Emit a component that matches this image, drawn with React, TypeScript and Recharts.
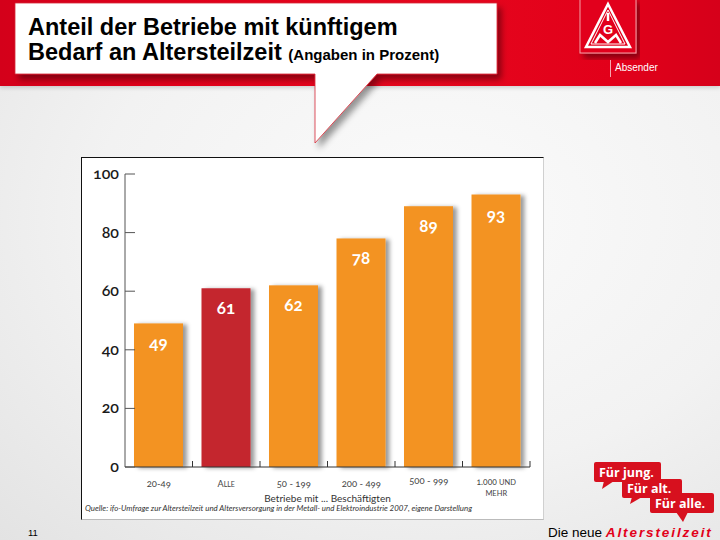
import React from 'react';
import { BarChart, Bar, XAxis, YAxis, Cell, LabelList } from 'recharts';

// Betriebe mit künftigem Bedarf an Altersteilzeit, in Prozent
const categories = ['20-49', 'Alle', '50 - 199', '200 - 499', '500 - 999', '1.000 und mehr'];
const shares = [49, 61, 62, 78, 89, 93];
const highlighted = [false, true, false, false, false, false];
const yTicks = [0, 20, 40, 60, 80, 100];

const ORANGE = '#f39324';
const RED = '#c4262e';
const IGM_RED = '#e2001a';

const CHART_W = 461;
const CHART_H = 361;
const MARGIN = { top: 16, right: 13, left: 0, bottom: 0 };
const Y_AXIS_W = 43;
const X_AXIS_H = 52;
const BAND = (CHART_W - MARGIN.left - MARGIN.right - Y_AXIS_W) / categories.length;

const data = categories.map((name, i) => ({ name, value: shares[i], hl: highlighted[i] }));

const numFont = 'Lato, "Open Sans", sans-serif';

const YTick = (props: any) => {
  const { x, y, payload } = props;
  return (
    <g>
      <line x1={x + 6} x2={x + 16} y1={y} y2={y} stroke="#555" strokeWidth={1} />
      <text
        x={x}
        y={y}
        dy={5}
        textAnchor="end"
        fontSize={16}
        fontWeight={600}
        fill="#1a1a1a"
        fontFamily={numFont}
        style={{ fontVariantNumeric: 'oldstyle-nums' }}
      >
        {payload.value}
      </text>
    </g>
  );
};

const XTick = (props: any) => {
  const { x, y, payload } = props;
  const common = {
    textAnchor: 'middle' as const,
    fill: '#444',
    fontFamily: numFont,
    style: { fontVariantNumeric: 'oldstyle-nums' as const },
  };
  let label: React.ReactNode;
  if (payload.value === 'Alle') {
    label = (
      <text x={x} y={y + 20} {...common} fontSize={9}>
        A<tspan fontSize={7}>LLE</tspan>
      </text>
    );
  } else if (payload.value === '1.000 und mehr') {
    label = (
      <g>
        <text x={x} y={y + 18} {...common} fontSize={8.5}>
          1.000 <tspan fontSize={7.5}>UND</tspan>
        </text>
        <text x={x} y={y + 29} {...common} fontSize={7.5}>MEHR</text>
      </g>
    );
  } else {
    label = (
      <text x={x} y={payload.value === '500 - 999' ? y + 17 : y + 20} {...common} fontSize={9.5}>
        {payload.value}
      </text>
    );
  }
  return (
    <g>
      <line x1={x + BAND / 2} x2={x + BAND / 2} y1={y} y2={y - 6} stroke="#333" strokeWidth={1} />
      {label}
    </g>
  );
};

const BarValue = (p: any) => {
  const vb = p.viewBox ?? p;
  return (
    <text
      x={vb.x + vb.width / 2}
      y={vb.y + 26}
      textAnchor="middle"
      fill="#fff"
      fontSize={17}
      fontWeight={700}
      fontFamily={numFont}
      style={{ fontVariantNumeric: 'oldstyle-nums' }}
    >
      {p.value}
    </text>
  );
};

const ShadowBar = (props: any) => {
  const { x, y, width, height, fill } = props;
  return <rect x={x} y={y} width={width} height={height} fill={fill} filter="url(#barShadow)" />;
};

const IgmLogo = () => (
  <svg width={62} height={60} style={{ position: 'absolute', left: 578, top: 0 }}>
    <rect x={2} y={-2} width={56} height={55} fill={IGM_RED} stroke="#f3a0a8" strokeWidth={1} filter="url(#softShadow)" />
    <polygon points="30,4 52,47 8,47" fill="none" stroke="#fff" strokeWidth={2.5} />
    <polygon points="30,10 47,44 13,44" fill="none" stroke="#fff" strokeWidth={1} />
    <line x1={30} y1={13} x2={30} y2={21} stroke="#fff" strokeWidth={2.5} />
    <text x={30} y={34} textAnchor="middle" fill="#fff" fontSize={13} fontWeight={700} fontFamily="Liberation Sans, Arial">G</text>
    <polyline points="17,43 22,35 30,42 38,35 43,43" fill="none" stroke="#fff" strokeWidth={2.5} />
  </svg>
);

const Slogan = () => {
  const txt = { fill: '#fff', fontSize: 12.5, fontWeight: 700, fontFamily: '"Open Sans", Lato, sans-serif' };
  return (
    <svg width={130} height={70} style={{ position: 'absolute', left: 590, top: 458 }}>
      <g fill="#d7101e">
        <rect x={4} y={4} width={67} height={20} rx={2} />
        <polygon points="14,23 24,23 12,31" />
        <rect x={32} y={21} width={60} height={19} rx={2} />
        <polygon points="42,39 52,39 40,46" />
        <rect x={60} y={35} width={64} height={20} rx={2} />
        <polygon points="86,54 98,54 93,64" />
      </g>
      <text x={9} y={19} {...txt}>Für jung.</text>
      <text x={37} y={35} {...txt}>Für alt.</text>
      <text x={65} y={50} {...txt}>Für alle.</text>
    </svg>
  );
};

export default function App() {
  return (
    <div
      style={{
        position: 'absolute',
        left: 0,
        top: 0,
        width: 720,
        height: 540,
        overflow: 'hidden',
        background: 'radial-gradient(ellipse at 60% 40%, #fbfbfb 0%, #f2f2f2 55%, #e3e3e3 100%)',
        fontFamily: '"Liberation Sans", Arial, sans-serif',
      }}
    >
      <svg width={0} height={0} style={{ position: 'absolute' }}>
        <defs>
          <filter id="barShadow" x="-20%" y="-10%" width="150%" height="130%">
            <feDropShadow dx={4} dy={1} stdDeviation={2.2} floodColor="#000" floodOpacity={0.4} />
          </filter>
          <filter id="softShadow" x="-20%" y="-20%" width="150%" height="150%">
            <feDropShadow dx={4} dy={5} stdDeviation={3} floodColor="#000" floodOpacity={0.4} />
          </filter>
        </defs>
      </svg>

      {/* red header band */}
      <div
        style={{
          position: 'absolute',
          left: 0,
          top: 0,
          width: 720,
          height: 86,
          background: `linear-gradient(to right, #d4001a 0%, ${IGM_RED} 25%, #e6061d 60%, ${IGM_RED} 85%, #d6001a 100%)`,
          boxShadow: '0 2px 4px rgba(0,0,0,0.15)',
        }}
      />

      {/* speech bubble */}
      <svg width={720} height={160} style={{ position: 'absolute', left: 0, top: 0 }}>
        <path
          d="M15,3 H497 V74 H377 L315,143 V74 H15 Z"
          fill="#fff"
          stroke="#d42a36"
          strokeWidth={0.8}
          filter="url(#softShadow)"
        />
      </svg>
      <div
        style={{
          position: 'absolute',
          left: 28,
          top: 15,
          color: '#000',
          fontSize: 23.5,
          fontWeight: 700,
          lineHeight: '25px',
          whiteSpace: 'nowrap',
        }}
      >
        <div>Anteil der Betriebe mit künftigem</div>
        <div>
          Bedarf an Altersteilzeit <span style={{ fontSize: 15 }}>(Angaben in Prozent)</span>
        </div>
      </div>

      <IgmLogo />
      <div style={{ position: 'absolute', left: 610, top: 60, width: 1, height: 17, background: '#f6a5ad' }} />
      <div style={{ position: 'absolute', left: 615, top: 62, color: '#fff', fontSize: 10 }}>Absender</div>

      {/* chart box */}
      <div
        style={{
          position: 'absolute',
          left: 81,
          top: 157,
          width: CHART_W,
          height: CHART_H,
          background: '#fff',
          borderTop: '1px solid #111',
          borderLeft: '1px solid #111',
          borderRight: '1px solid #d0d0d0',
          borderBottom: '1px solid #bbb',
        }}
      >
        <BarChart width={CHART_W} height={CHART_H} data={data} margin={MARGIN}>
          <YAxis
            width={Y_AXIS_W}
            domain={[0, 100]}
            ticks={yTicks}
            interval={0}
            tickSize={0}
            tickMargin={6}
            tickLine={false}
            axisLine={{ stroke: '#555', strokeWidth: 1 }}
            tick={<YTick />}
          />
          <XAxis
            dataKey="name"
            height={X_AXIS_H}
            interval={0}
            tickSize={0}
            tickMargin={0}
            tickLine={false}
            axisLine={{ stroke: '#333', strokeWidth: 1 }}
            tick={<XTick />}
            label={{
              value: 'Betriebe mit ... Beschäftigten',
              position: 'insideBottom',
              offset: 17,
              fill: '#333',
              fontSize: 10,
              fontFamily: numFont,
            }}
          />
          <Bar dataKey="value" barSize={49} isAnimationActive={false} shape={<ShadowBar />}>
            {data.map((d) => (
              <Cell key={d.name} fill={d.hl ? RED : ORANGE} />
            ))}
            <LabelList dataKey="value" content={<BarValue />} />
          </Bar>
        </BarChart>
        <div
          style={{
            position: 'absolute',
            left: 3,
            top: 345,
            fontSize: 7.9,
            fontStyle: 'italic',
            color: '#333',
            whiteSpace: 'nowrap',
            fontFamily: numFont,
          }}
        >
          Quelle: ifo-Umfrage zur Altersteilzeit und Altersversorgung in der Metall- und Elektroindustrie 2007, eigene Darstellung
        </div>
      </div>

      <Slogan />

      <div style={{ position: 'absolute', left: 28, top: 527, fontSize: 9.5, lineHeight: '11px', color: '#000' }}>11</div>
      <div
        style={{
          position: 'absolute',
          left: 548,
          top: 525,
          fontSize: 13.5,
          lineHeight: '15px',
          color: '#000',
          whiteSpace: 'nowrap',
        }}
      >
        Die neue{' '}
        <span style={{ color: '#e2001a', fontStyle: 'italic', fontWeight: 700, letterSpacing: 1.9 }}>Altersteilzeit</span>
      </div>
    </div>
  );
}
